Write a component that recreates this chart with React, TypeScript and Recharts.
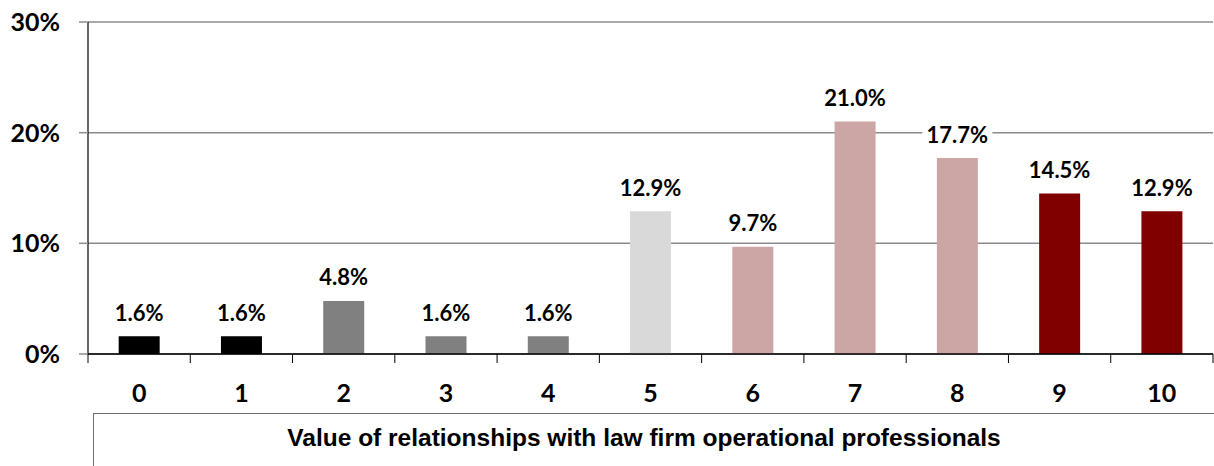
import { Bar, BarChart, CartesianGrid, Cell, LabelList, XAxis, YAxis } from 'recharts';

const categories = ['0', '1', '2', '3', '4', '5', '6', '7', '8', '9', '10'];
const shares = [1.6, 1.6, 4.8, 1.6, 1.6, 12.9, 9.7, 21.0, 17.7, 14.5, 12.9];
const barColors = ['#000000', '#000000', '#808080', '#808080', '#808080', '#d9d9d9', '#cca6a4', '#cca6a4', '#cca6a4', '#800000', '#800000'];
const yTicks = [0, 10, 20, 30];
const axisTitle = 'Value of relationships with law firm operational professionals';

const data = categories.map((c, i) => ({ name: c, value: shares[i] }));

const FONT = 'Lato, "Open Sans", sans-serif';

function ValueLabel(props: any) {
    const { x, y, width, value } = props;
    const cx = x + width / 2;
    const cy = y - 24;
    const text = `${Number(value).toFixed(1)}%`;
    const w = text.length * 12 + 10;
    return (
        <g>
            <rect x={cx - w / 2} y={cy - 13} width={w} height={26} fill="#ffffff" />
            <text x={cx} y={cy} textAnchor="middle" dominantBaseline="central" fontFamily={FONT} fontWeight={700} fontSize={22} fill="#000">
                {text}
            </text>
        </g>
    );
}

export default function App() {
    return (
        <div style={{ position: 'absolute', left: 0, top: 0, width: 1214, height: 466, background: '#fff' }}>
            <BarChart width={1214} height={466} data={data} margin={{ top: 22, right: 1, bottom: 0, left: 0 }} barCategoryGap="30%">
                <CartesianGrid vertical={false} stroke="#8c8c8c" strokeWidth={1.5} />
                <YAxis
                    width={88}
                    domain={[0, 30]}
                    ticks={yTicks}
                    tickFormatter={(v) => `${v}%`}
                    axisLine={{ stroke: '#000', strokeWidth: 1.2 }}
                    tickLine={{ stroke: '#8c8c8c', strokeWidth: 1.5 }}
                    tickSize={9}
                    tickMargin={19}
                    tick={{ fontFamily: FONT, fontWeight: 700, fontSize: 25, fill: '#000' }}
                />
                <XAxis
                    dataKey="name"
                    height={112}
                    axisLine={{ stroke: '#000', strokeWidth: 1.5 }}
                    tickLine={false}
                    tickSize={9}
                    tickMargin={21}
                    tick={{ fontFamily: FONT, fontWeight: 700, fontSize: 25, fill: '#000' }}
                />
                <Bar dataKey="value" isAnimationActive={false}>
                    {data.map((d, i) => (
                        <Cell key={d.name} fill={barColors[i]} />
                    ))}
                    <LabelList dataKey="value" content={ValueLabel} />
                </Bar>
            </BarChart>
            {/* category boundary ticks under x axis */}
            <svg width={1214} height={466} style={{ position: 'absolute', left: 0, top: 0, pointerEvents: 'none' }}>
                {categories.map((c, i) => {
                    const tx = 88 + (i * 1125) / categories.length;
                    return <line key={c} x1={tx} x2={tx} y1={354} y2={363} stroke="#000" strokeWidth={1} />;
                })}
                <line x1={1213} x2={1213} y1={354} y2={363} stroke="#000" strokeWidth={1} />
            </svg>
            <div
                style={{
                    position: 'absolute',
                    left: 93,
                    top: 413,
                    width: 1121,
                    height: 53,
                    borderTop: '1.5px solid #6e6e6e',
                    borderLeft: '1.5px solid #6e6e6e',
                    boxSizing: 'border-box',
                    display: 'flex',
                    alignItems: 'center',
                    justifyContent: 'center',
                    paddingBottom: 4,
                    paddingRight: 20,
                    fontFamily: '"Liberation Sans", Arial, sans-serif',
                    fontWeight: 700,
                    fontSize: 24.5,
                    color: '#000',
                }}
            >
                {axisTitle}
            </div>
        </div>
    );
}
